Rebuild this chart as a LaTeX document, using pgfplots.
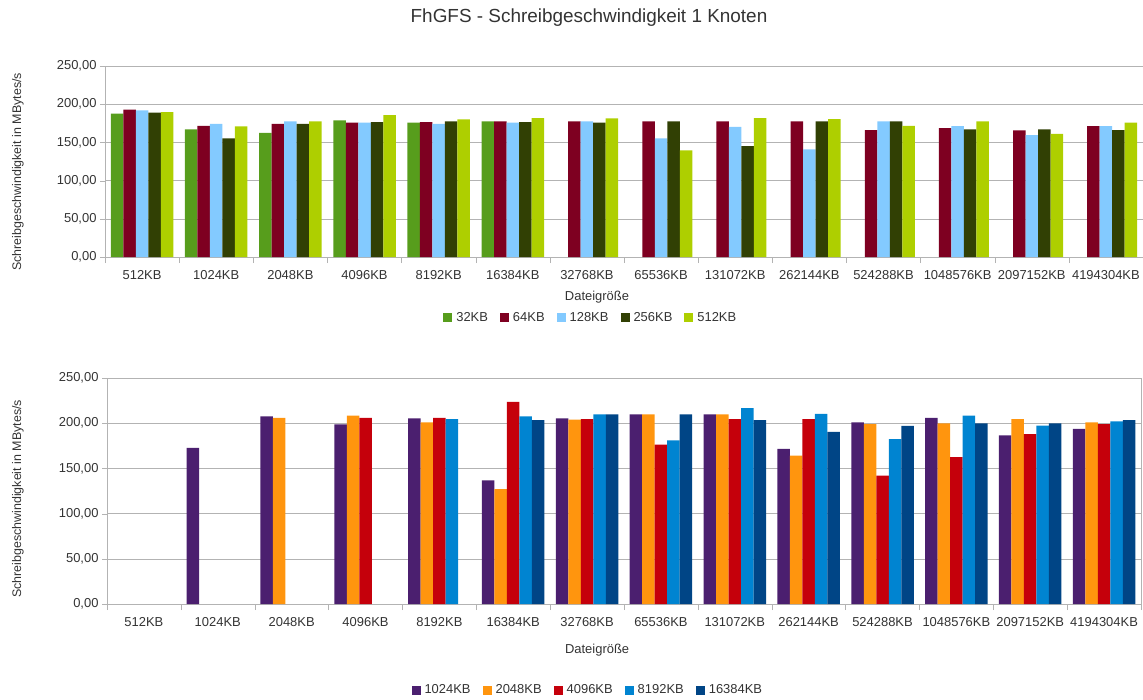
\documentclass[border=0pt]{standalone}
\usepackage{pgfplots}
\pgfplotsset{compat=1.18}
\usepackage{fontspec}
\setmainfont{Liberation Sans}
\definecolor{txt}{HTML}{333333}
\definecolor{gridc}{HTML}{B3B3B3}
\definecolor{cA}{HTML}{579D1C}
\definecolor{cB}{HTML}{7E0021}
\definecolor{cC}{HTML}{83CAFF}
\definecolor{cD}{HTML}{314004}
\definecolor{cE}{HTML}{AECF00}
\definecolor{dA}{HTML}{4B1F6F}
\definecolor{dB}{HTML}{FF950E}
\definecolor{dC}{HTML}{C5000B}
\definecolor{dD}{HTML}{0084D1}
\definecolor{dE}{HTML}{004586}
\pgfplotsset{
  ybar legend/.style={legend image code/.code={\fill[##1] (0bp,-4.5bp) rectangle (9bp,4.5bp);}},
  common/.style={
    scale only axis,
    ybar=0pt, bar width=12.5bp,
    ymin=0, ymax=250, ytick={0,50,...,250},
    xmin=-0.5, xmax=13.5,
    xtick={0,...,13},
    xticklabels={512KB,1024KB,2048KB,4096KB,8192KB,16384KB,32768KB,65536KB,131072KB,262144KB,524288KB,1048576KB,2097152KB,4194304KB},
    tick align=outside,
    tick pos=left,
    major tick length=5bp,
    xtick style={draw=none},
    ytick style={draw=gridc},
    extra x ticks={-0.5,0.5,...,13.5},
    extra x tick labels={},
    extra x tick style={xtick style={draw=gridc}, major tick length=6bp, grid=none},
    ymajorgrids, grid style={gridc},
    axis line style={gridc,-},
    tick label style={font=\fontsize{13}{15}\selectfont, text=txt},
    xticklabel style={yshift=-5bp},
    /pgf/number format/.cd, fixed, fixed zerofill, precision=2, use comma, 1000 sep={}, assume math mode=true, /pgfplots/.cd,
    ylabel={Schreibgeschwindigkeit in MBytes/s},
    ylabel style={font=\fontsize{12.5}{14}\selectfont, text=txt, anchor=center},
    xlabel={Dateigröße},
    xlabel style={font=\fontsize{13}{15}\selectfont, text=txt, anchor=center},
    legend columns=-1,
    legend style={draw=none, fill=none, font=\fontsize{13}{15}\selectfont, text=txt, anchor=center,
      /tikz/every odd column/.append style={column sep=2bp},
      /tikz/every even column/.append style={column sep=10bp}},
    every axis plot/.append style={draw=none},
  }
}
\begin{document}
\begin{tikzpicture}
\path[use as bounding box] (0,0) rectangle (1143bp,-700bp);
\node[font=\fontsize{19}{22}\selectfont, text=txt] at (589bp,-18bp) {FhGFS - Schreibgeschwindigkeit 1 Knoten};
\begin{axis}[common,
  at={(105bp,-66bp)}, anchor=north west, width=1038bp, height=191bp,
  axis x line*=bottom, axis y line*=left,
  ylabel style={at={(axis description cs:-0.0838,0.445)}},
  xlabel style={at={(axis description cs:0.474,-0.209)}},
  legend style={at={(0.468,-0.319)}},
]
\addplot[fill=cA] coordinates {(0,187.8) (1,167) (2,162.6) (3,178.7) (4,176) (5,177.4)};
\addplot[fill=cB] coordinates {(0,193) (1,171.7) (2,174.3) (3,176) (4,176.5) (5,177.4) (6,177.4) (7,177.4) (8,177.4) (9,177.4) (10,166) (11,168.7) (12,165.7) (13,171.3)};
\addplot[fill=cC] coordinates {(0,192) (1,174.3) (2,177.4) (3,176) (4,174.3) (5,176) (6,177.4) (7,155.2) (8,170.4) (9,140.9) (10,177.4) (11,171.3) (12,159.6) (13,171.3)};
\addplot[fill=cD] coordinates {(0,189) (1,155.2) (2,174.3) (3,176.5) (4,177.4) (5,176.5) (6,176) (7,177.4) (8,145.2) (9,177.4) (10,177.4) (11,167) (12,167) (13,166)};
\addplot[fill=cE] coordinates {(0,189.6) (1,170.9) (2,177.4) (3,185.7) (4,180) (5,181.7) (6,181.3) (7,139.6) (8,181.7) (9,180.4) (10,171.7) (11,177.4) (12,161.3) (13,176)};
\legend{32KB,64KB,128KB,256KB,512KB}
\end{axis}
\begin{axis}[common,
  at={(107bp,-378bp)}, anchor=north west, width=1034bp, height=226bp,
  ylabel style={at={(axis description cs:-0.0861,0.465)}},
  xlabel style={at={(axis description cs:0.474,-0.204)}},
  legend style={at={(0.465,-0.381)}},
]
\addplot[fill=dA] coordinates {(1,172.6) (2,207.6) (3,198.7) (4,205.4) (5,136.8) (6,205.4) (7,209.8) (8,209.8) (9,171.5) (10,201) (11,205.8) (12,186.6) (13,193.6)};
\addplot[fill=dB] coordinates {(2,205.8) (3,208.3) (4,201) (5,127.2) (6,203.9) (7,209.8) (8,209.8) (9,164.1) (10,199.1) (11,199.9) (12,204.6) (13,201)};
\addplot[fill=dC] coordinates {(3,205.8) (4,205.8) (5,223.5) (6,204.6) (7,176.3) (8,204.6) (9,204.6) (10,142) (11,162.6) (12,188) (13,199.1)};
\addplot[fill=dD] coordinates {(4,204.6) (5,207.6) (6,209.8) (7,181) (8,216.8) (9,210.2) (10,182.5) (11,208.3) (12,197.3) (13,202)};
\addplot[fill=dE] coordinates {(5,203.5) (6,209.8) (7,209.8) (8,203.5) (9,190.3) (10,197) (11,199.9) (12,199.9) (13,203.5)};
\legend{1024KB,2048KB,4096KB,8192KB,16384KB}
\end{axis}
\end{tikzpicture}
\end{document}
